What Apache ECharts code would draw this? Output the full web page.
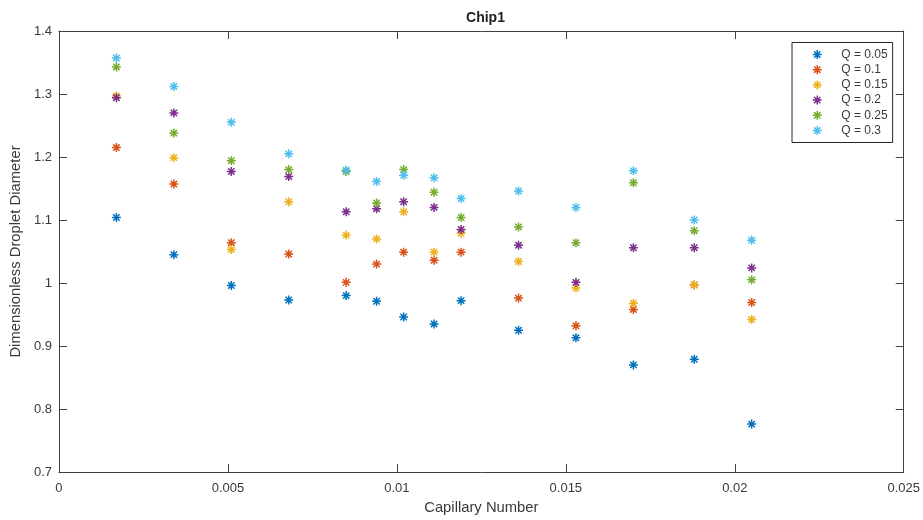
<!DOCTYPE html>
<html>
<head>
<meta charset="utf-8">
<script src="https://cdn.jsdelivr.net/npm/echarts@6/dist/echarts.min.js"></script>
<style>html,body{margin:0;padding:0;background:#fff;}#c{width:923px;height:520px;}</style>
</head>
<body>
<div id="c"></div>
<script>
const capillary = [0.0017, 0.0034, 0.0051, 0.0068, 0.0085, 0.0094, 0.0102, 0.0111, 0.0119, 0.0136, 0.0153, 0.0170, 0.0188, 0.0205];
const q005 = [1.104, 1.045, 0.996, 0.973, 0.980, 0.971, 0.946, 0.935, 0.972, 0.925, 0.913, 0.870, 0.879, 0.776];
const q010 = [1.215, 1.157, 1.064, 1.046, 1.001, 1.030, 1.049, 1.036, 1.049, 0.976, 0.932, 0.958, 0.997, 0.969];
const q015 = [1.297, 1.199, 1.053, 1.129, 1.076, 1.070, 1.113, 1.049, 1.079, 1.034, 0.992, 0.968, 0.997, 0.942];
const q020 = [1.294, 1.270, 1.177, 1.169, 1.113, 1.118, 1.129, 1.120, 1.085, 1.060, 1.001, 1.056, 1.056, 1.024];
const q025 = [1.343, 1.238, 1.194, 1.180, 1.177, 1.127, 1.180, 1.144, 1.104, 1.089, 1.064, 1.159, 1.083, 1.005];
const q030 = [1.357, 1.312, 1.255, 1.205, 1.179, 1.161, 1.171, 1.167, 1.134, 1.146, 1.120, 1.178, 1.100, 1.068];
const seriesNames = ['Q = 0.05', 'Q = 0.1', 'Q = 0.15', 'Q = 0.2', 'Q = 0.25', 'Q = 0.3'];
const seriesValues = [q005, q010, q015, q020, q025, q030];
const colors = ['#0072BD', '#D95319', '#EDB120', '#7E2F8E', '#77AC30', '#4DBEEE'];

const star = 'path://M5 0L5 10M0 5L10 5M1.46 1.46L8.54 8.54M8.54 1.46L1.46 8.54';
const font = "'Liberation Sans', Arial, Helvetica, sans-serif";
const axisCol = '#404040';
const textCol = '#3a3a3a';

const chart = echarts.init(document.getElementById('c'), null, {renderer: 'canvas'});
const series = seriesNames.map((n, i) => ({
  name: n,
  type: 'scatter',
  xAxisIndex: 0, yAxisIndex: 0,
  symbol: star,
  symbolSize: 9,
  symbolKeepAspect: true,
  itemStyle: {color: colors[i], borderColor: colors[i], borderWidth: 1.5, opacity: 1},
  emphasis: {disabled: true},
  data: capillary.map((x, k) => [x, seriesValues[i][k]])
}));

const option = {
  animation: false,
  backgroundColor: '#fff',
  textStyle: {fontFamily: font},
  title: {
    text: 'Chip1', left: 480.5, top: 6, textAlign: 'center',
    textStyle: {fontSize: 14, fontWeight: 'bold', color: '#222', fontFamily: font}
  },
  grid: {left: 55.5, right: 16.5, top: 31, bottom: 43.5, containLabel: false},
  legend: {
    left: 792, top: 42.5,
    orient: 'vertical',
    data: seriesNames.map(n => ({name: n, icon: star})),
    symbolKeepAspect: true,
    itemWidth: 38, itemHeight: 9,
    itemGap: 2.2,
    padding: [5.5, 5, 5.5, 20],
    borderColor: '#262626', borderWidth: 1,
    backgroundColor: '#fff',
    itemStyle: {borderWidth: 1.5},
    textStyle: {fontSize: 12, color: textCol, lineHeight: 13, fontFamily: font},
    selectedMode: false
  },
  xAxis: [{
    type: 'value', position: 'bottom', min: 0, max: 0.025, interval: 0.005,
    name: 'Capillary Number', nameLocation: 'middle', nameGap: 28,
    nameTextStyle: {fontSize: 14.8, color: textCol, fontFamily: font},
    axisLine: {show: true, onZero: false, lineStyle: {color: axisCol, width: 1}},
    axisTick: {show: true, inside: true, length: 8, lineStyle: {color: axisCol}},
    axisLabel: {fontSize: 13, color: textCol, margin: 10, fontFamily: font},
    splitLine: {show: false}
  }, {
    type: 'value', position: 'top', min: 0, max: 0.025, interval: 0.005,
    axisLine: {show: true, onZero: false, lineStyle: {color: axisCol, width: 1}},
    axisTick: {show: true, inside: true, length: 8, lineStyle: {color: axisCol}},
    axisLabel: {show: false},
    splitLine: {show: false}
  }],
  yAxis: [{
    type: 'value', position: 'left', min: 0.7, max: 1.4, interval: 0.1,
    name: 'Dimensionless Droplet Diameter', nameLocation: 'middle', nameGap: 28,
    nameTextStyle: {fontSize: 14.8, color: textCol, fontFamily: font},
    axisLine: {show: true, onZero: false, lineStyle: {color: axisCol, width: 1}},
    axisTick: {show: true, inside: true, length: 8, lineStyle: {color: axisCol}},
    axisLabel: {fontSize: 13, color: textCol, margin: 7, fontFamily: font},
    splitLine: {show: false}
  }, {
    type: 'value', position: 'right', min: 0.7, max: 1.4, interval: 0.1,
    axisLine: {show: true, onZero: false, lineStyle: {color: axisCol, width: 1}},
    axisTick: {show: true, inside: true, length: 8, lineStyle: {color: axisCol}},
    axisLabel: {show: false},
    splitLine: {show: false}
  }],
  series: series
};
chart.setOption(option);
</script>
</body>
</html>
